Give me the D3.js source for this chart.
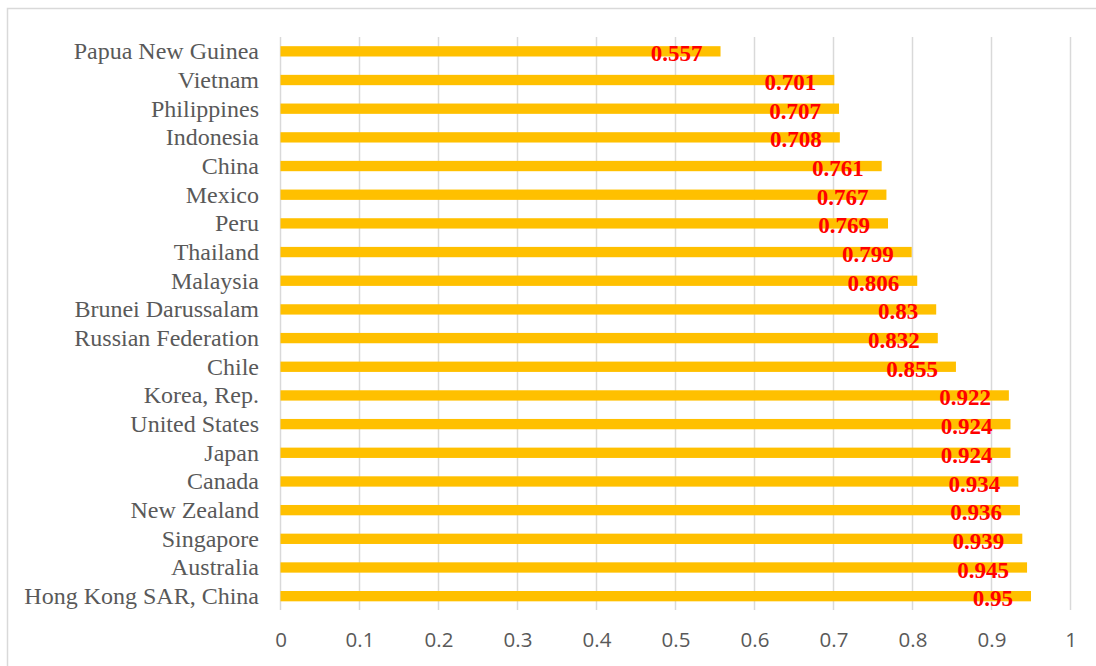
<!DOCTYPE html>
<html><head><meta charset="utf-8">
<script src="https://cdn.jsdelivr.net/npm/d3@7"></script>
<style>body{margin:0;background:#fff;}svg{display:block;}</style>
</head><body>
<script>
const categories = ["Papua New Guinea","Vietnam","Philippines","Indonesia","China","Mexico","Peru","Thailand","Malaysia","Brunei Darussalam","Russian Federation","Chile","Korea, Rep.","United States","Japan","Canada","New Zealand","Singapore","Australia","Hong Kong SAR, China"];
const values = [0.557,0.701,0.707,0.708,0.761,0.767,0.769,0.799,0.806,0.83,0.832,0.855,0.922,0.924,0.924,0.934,0.936,0.939,0.945,0.95];
const tickValues = [0,0.1,0.2,0.3,0.4,0.5,0.6,0.7,0.8,0.9,1];

const W = 1096, H = 666;
const svg = d3.select("body").append("svg").attr("width", W).attr("height", H);
svg.append("rect").attr("x",7.5).attr("y",8.5).attr("width",1200).attr("height",800)
  .attr("fill","#fff").attr("stroke","#d9d9d9").attr("stroke-width",1.5);

const x = d3.scaleLinear().domain([0,1]).range([280.5,1070.5]);
const y = d3.scaleBand().domain(categories).range([37,610.5]).paddingInner(0.64).paddingOuter(0.32);

// gridlines
svg.append("g").selectAll("line").data(tickValues).join("line")
  .attr("x1",d=>x(d)).attr("x2",d=>x(d)).attr("y1",37).attr("y2",610)
  .attr("stroke","#d9d9d9").attr("stroke-width",1.5);

// bars
svg.append("g").selectAll("rect").data(values).join("rect")
  .attr("x",x(0)).attr("y",(d,i)=>y(categories[i]))
  .attr("width",d=>x(d)-x(0)).attr("height",y.bandwidth())
  .attr("fill","#ffc000");

// category labels
svg.append("g").selectAll("text").data(categories).join("text")
  .attr("x",259).attr("y",d=>y(d)+y.bandwidth()/2)
  .attr("dy","0.33em").attr("text-anchor","end")
  .attr("font-family","'Liberation Serif','Times New Roman',serif")
  .attr("font-size",24).attr("fill","#595959").text(d=>d);

// value labels
svg.append("g").selectAll("text").data(values).join("text")
  .attr("x",d=>x(d)-18).attr("y",(d,i)=>y(categories[i])+y.bandwidth()/2+2)
  .attr("dy","0.35em").attr("text-anchor","end")
  .attr("font-family","'Liberation Serif','Times New Roman',serif")
  .attr("font-weight","bold").attr("font-size",23).attr("fill","#ff0000")
  .text(d=>String(d));

// x axis tick labels
const axis = d3.axisBottom(x).tickValues(tickValues).tickSize(0).tickPadding(0).tickFormat(d=>String(d));
const gx = svg.append("g").attr("transform","translate(0,640)").call(axis);
gx.select(".domain").remove();
gx.selectAll("text").attr("font-family","'Open Sans','Liberation Sans',sans-serif")
  .attr("font-size",20.5).attr("fill","#595959").attr("dy","0.35em").attr("y",0);
</script>
</body></html>
